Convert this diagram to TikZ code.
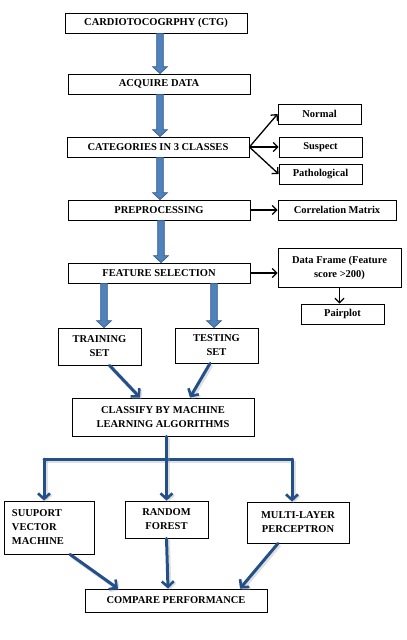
\documentclass[tikz,border=0pt]{standalone}
\usepackage{fontspec}
\setmainfont{Liberation Serif}
\usetikzlibrary{arrows.meta,calc}
\definecolor{blockfill}{HTML}{4F81BD}
\definecolor{blockline}{HTML}{385D8A}
\definecolor{navy}{HTML}{24508A}
\begin{document}
\begin{tikzpicture}[x=1pt,y=-1pt,
  font=\fontsize{10.5}{14}\selectfont\bfseries,
  box/.style={draw, line width=0.8pt, inner sep=0pt, align=center},
  blockarrow/.style={fill=blockfill, draw=blockline, line width=0.7pt,
    to path={let \p1=(\tikztostart), \p2=(\tikztotarget) in
      (\x1-3.3pt,\y1) -- (\x1+3.3pt,\y1) -- (\x1+3.3pt,\y2+7pt) -- (\x1+7.5pt,\y2+7pt)
      -- (\x1,\y2) -- (\x1-7.5pt,\y2+7pt) -- (\x1-3.3pt,\y2+7pt) -- cycle}},
  navyarrow/.style={draw=navy, line width=3pt, line cap=round,
    -{Straight Barb[length=5.5pt,width=12pt,line width=2.6pt]},
    preaction={draw=black!40, opacity=0.3, line width=4pt, transform canvas={shift={(1.5pt,-1.5pt)}}}},
  navyline/.style={draw=navy, line width=3pt, line cap=round,
    preaction={draw=black!40, opacity=0.3, line width=4pt, transform canvas={shift={(1.5pt,-1.5pt)}}}},
  blackarrow/.style={draw=black, line width=1.3pt, -{Straight Barb[length=4.5pt,width=9pt,line width=1.3pt]}}
]
\useasboundingbox (0,0) rectangle (407,640);

\node[box, minimum width=182pt, minimum height=20pt] (ctg) at (156,23) {CARDIOTOCOGRPHY (CTG)};
\node[box, minimum width=182pt, minimum height=20pt] (acq) at (159,84) {ACQUIRE DATA};
\node[box, minimum width=182pt, minimum height=20pt] (cat) at (158,147) {CATEGORIES IN 3 CLASSES};
\node[box, minimum width=83pt, minimum height=20pt] (normal) at (319.5,114) {Normal};
\node[box, minimum width=83pt, minimum height=20pt] (suspect) at (320.5,147) {Suspect};
\node[box, minimum width=83pt, minimum height=20pt] (patho) at (320.5,174) {Pathological};
\node[box, minimum width=182pt, minimum height=20pt] (pre) at (159,210) {PREPROCESSING};
\node[box, minimum width=118pt, minimum height=20pt] (corr) at (337,210) {Correlation Matrix};
\node[box, minimum width=182pt, minimum height=20pt] (feat) at (159,273) {FEATURE SELECTION};
\node[box, minimum width=123pt, minimum height=39pt] (df) at (339.5,267.5) {Data Frame (Feature\\score >200)};
\node[box, minimum width=83pt, minimum height=20pt] (pair) at (342.5,314) {Pairplot};
\node[box, minimum width=83pt, minimum height=37pt] (train) at (99.5,346.5) {TRAINING\\SET};
\node[box, minimum width=83pt, minimum height=35pt] (test) at (216.5,345.5) {TESTING\\SET};
\node[box, minimum width=182pt, minimum height=38pt] (cls) at (163,417) {CLASSIFY BY MACHINE\\LEARNING ALGORITHMS};
\node[box, align=left, text width=74pt, inner xsep=8pt, minimum height=53pt] (svm) at (49,527.5) {SUUPORT\\VECTOR\\MACHINE};
\node[box, minimum width=83pt, minimum height=37pt] (rf) at (166.5,519.5) {RANDOM\\FOREST};
\node[box, minimum width=102pt, minimum height=41pt] (mlp) at (298,522.5) {MULTI-LAYER\\PERCEPTRON};
\node[box, minimum width=182pt, minimum height=23pt] (cmp) at (176,600.5) {COMPARE PERFORMANCE};

% block arrows
\draw[blockarrow] ([xshift=4pt]ctg.south) to ([xshift=1pt]acq.north);
\draw[blockarrow] ([xshift=1pt]acq.south) to ([xshift=1pt]cat.north);
\draw[blockarrow] ([xshift=2pt]cat.south) to (pre.north);
\draw[blockarrow] ([xshift=2pt]pre.south) to ([xshift=2pt]feat.north);
\draw[blockarrow] ([xshift=4.5pt]feat.south -| train.north) to ([xshift=4.5pt]train.north);
\draw[blockarrow] ([xshift=-2.5pt]feat.south -| test.north) to ([xshift=-2.5pt]test.north);

% black arrows
\draw[blackarrow] (cat.east) -- (normal.west);
\draw[blackarrow] (cat.east) -- (suspect.west);
\draw[blackarrow] (cat.east) -- (patho.west);
\draw[blackarrow] (pre.east) -- (corr.west);
\draw[blackarrow] (feat.east) -- (feat.east -| df.west);
\draw[blackarrow] (df.south) -- (df.south |- pair.north);

% navy arrows
\draw[navyarrow] ([xshift=10pt]train.south) -- ([xshift=-23pt]cls.north);
\draw[navyarrow] ([xshift=-6.5pt]test.south) -- ([xshift=27pt]cls.north);
\coordinate (hl) at (44,459);
\coordinate (hr) at (292,459);
\draw[navyline] (hl) -- (hr);
\draw[navyarrow] (rf.north |- cls.south) -- (rf.north);
\draw[navyarrow] (hl) -- (hl |- svm.north);
\draw[navyarrow] (hr) -- (hr |- mlp.north);
\draw[navyarrow] ([xshift=21pt]svm.south) -- ([xshift=-58pt]cmp.north);
\draw[navyarrow] (rf.south) -- ([xshift=-8pt]cmp.north);
\draw[navyarrow] ([xshift=-20pt]mlp.south) -- ([xshift=64pt]cmp.north);
\end{tikzpicture}
\end{document}
